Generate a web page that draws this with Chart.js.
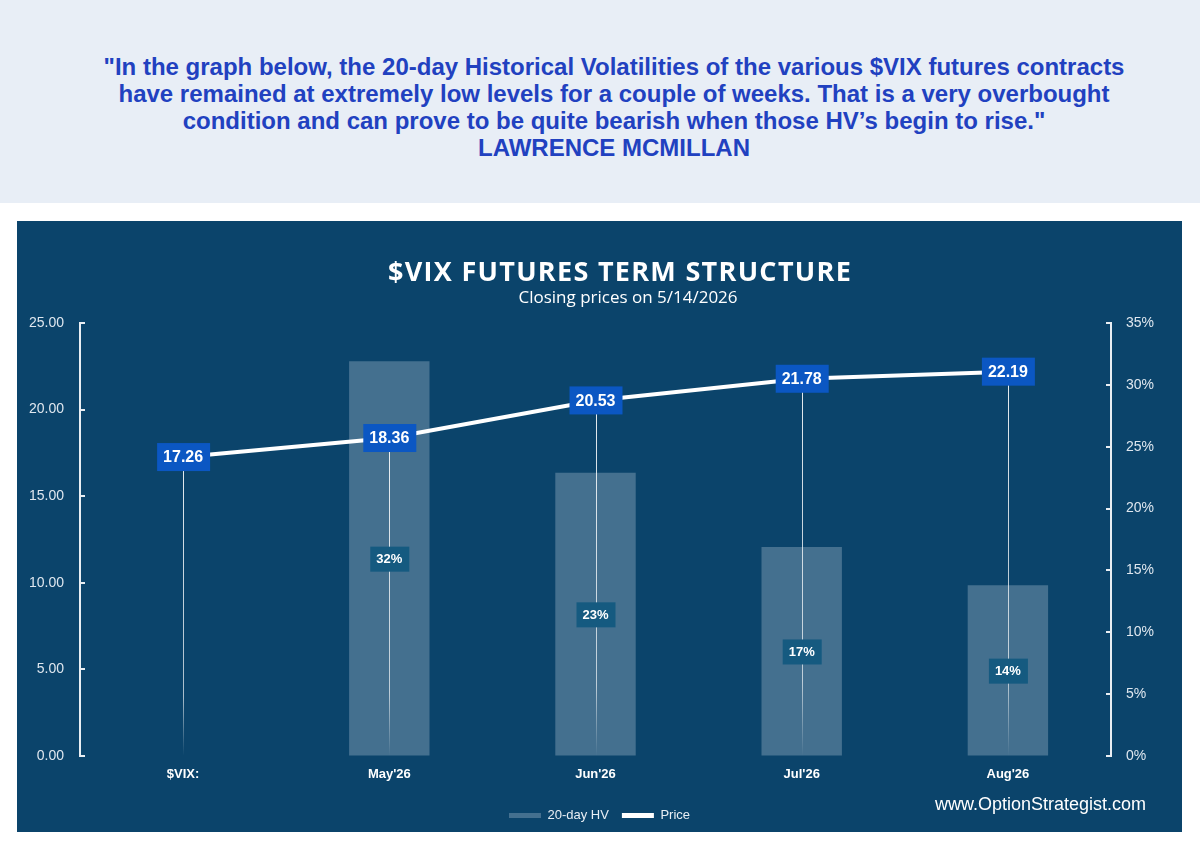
<!DOCTYPE html>
<html>
<head>
<meta charset="utf-8">
<script src="https://cdn.jsdelivr.net/npm/chart.js@4.4.1/dist/chart.umd.min.js"></script>
<style>
html,body{margin:0;padding:0;background:#ffffff;width:1200px;height:850px;overflow:hidden;}
#banner{position:absolute;left:0;top:0;width:1200px;height:203px;background:#e8eef6;}
#quote{position:absolute;left:14px;top:53px;width:1200px;text-align:center;font:bold 24px 'Liberation Sans',Arial,sans-serif;line-height:27px;color:#2141c0;}
#panel{position:absolute;left:17px;top:221px;width:1165px;height:611px;background:#0b446b;}
#site{position:absolute;left:918px;top:573px;font:18px 'Liberation Sans',Arial,sans-serif;color:#ffffff;white-space:nowrap;}
canvas{position:absolute;left:0;top:0;}
</style>
</head>
<body>
<div id="banner"><div id="quote">"In the graph below, the 20-day Historical Volatilities of the various $VIX futures contracts<br>have remained at extremely low levels for a couple of weeks. That is a very overbought<br>condition and can prove to be quite bearish when those HV’s begin to rise."<br>LAWRENCE MCMILLAN</div></div>
<div id="panel">
<canvas id="c" width="1165" height="611"></canvas>
<div id="site">www.OptionStrategist.com</div>
</div>
<script>
const categories = ["$VIX:", "May'26", "Jun'26", "Jul'26", "Aug'26"];
const priceValues = [17.26, 18.36, 20.53, 21.78, 22.19];
const hvValues = [null, 31.9, 22.9, 16.9, 13.8];
const hvLabels = ["", "32%", "23%", "17%", "14%"];
const priceTickStep = 5, priceMax = 25;
const hvTickStep = 5, hvMax = 35;
const titleText = '$VIX FUTURES TERM STRUCTURE';
const subtitleText = 'Closing prices on 5/14/2026';

const titles = {
  id: 'titles',
  afterDraw(chart) {
    const ctx = chart.ctx;
    ctx.save();
    ctx.fillStyle = '#ffffff';
    ctx.textAlign = 'center'; ctx.textBaseline = 'middle';
    ctx.font = "bold 27px 'Open Sans', sans-serif";
    if ('letterSpacing' in ctx) ctx.letterSpacing = '1.3px';
    ctx.fillText(titleText, 603, 52);
    if ('letterSpacing' in ctx) ctx.letterSpacing = '0px';
    ctx.font = "17px 'Open Sans', sans-serif";
    ctx.fillText(subtitleText, 611, 77);
    ctx.restore();
  }
};

const annot = {
  id: 'annot',
  afterDatasetsDraw(chart) {
    const ctx = chart.ctx;
    const x = chart.scales.x, y = chart.scales.y, y1 = chart.scales.y1;
    const bottom = y.getPixelForValue(0);
    ctx.save();
    ctx.strokeStyle = '#e9eef3'; ctx.lineWidth = 2;
    y.ticks.forEach((t, i) => {
      const py = Math.round(y.getPixelForTick(i));
      ctx.beginPath(); ctx.moveTo(y.right, py); ctx.lineTo(y.right + 5, py); ctx.stroke();
    });
    y1.ticks.forEach((t, i) => {
      const py = Math.round(y1.getPixelForTick(i));
      ctx.beginPath(); ctx.moveTo(y1.left, py); ctx.lineTo(y1.left - 5, py); ctx.stroke();
    });
    priceValues.forEach((v, i) => {
      const px = Math.round(x.getPixelForValue(i)) + 0.5;
      const py = y.getPixelForValue(v);
      const g = ctx.createLinearGradient(0, py, 0, bottom);
      g.addColorStop(0, 'rgba(255,255,255,0.9)');
      g.addColorStop(0.8, 'rgba(255,255,255,0.65)');
      g.addColorStop(1, 'rgba(255,255,255,0)');
      ctx.strokeStyle = g; ctx.lineWidth = 1;
      ctx.beginPath(); ctx.moveTo(px, py); ctx.lineTo(px, bottom); ctx.stroke();
    });
    ctx.textAlign = 'center'; ctx.textBaseline = 'middle';
    ctx.font = "bold 13px 'Liberation Sans', Arial, sans-serif";
    hvValues.forEach((v, i) => {
      if (v == null) return;
      const px = x.getPixelForValue(i);
      const py = (y1.getPixelForValue(v) + y1.getPixelForValue(0)) / 2;
      ctx.fillStyle = '#155a80';
      ctx.fillRect(px - 19, py - 12, 39, 25);
      ctx.fillStyle = '#ffffff';
      ctx.fillText(hvLabels[i], px, py + 1);
    });
    ctx.font = "bold 16px 'Liberation Sans', Arial, sans-serif";
    priceValues.forEach((v, i) => {
      const px = x.getPixelForValue(i);
      const py = y.getPixelForValue(v);
      ctx.fillStyle = '#0b57c3';
      ctx.fillRect(px - 26, py - 14, 53, 28);
      ctx.fillStyle = '#ffffff';
      ctx.fillText(v.toFixed(2), px, py + 1);
    });
    ctx.restore();
  }
};

new Chart(document.getElementById('c'), {
  data: {
    labels: categories,
    datasets: [
      {
        type: 'line', label: 'Price', data: priceValues, yAxisID: 'y',
        borderColor: '#ffffff', backgroundColor: '#ffffff', borderWidth: 4,
        pointRadius: 0, tension: 0, order: 0
      },
      {
        type: 'bar', label: '20-day HV', data: hvValues, yAxisID: 'y1',
        backgroundColor: '#44708f', borderWidth: 0,
        categoryPercentage: 1, barPercentage: 0.39, order: 1
      }
    ]
  },
  options: {
    responsive: false, animation: false,
    layout: { padding: { top: 102, bottom: 0, left: 0, right: 0 } },
    plugins: {
      title: { display: false },
      legend: {
        position: 'bottom', reverse: true,
        labels: { color: '#e8eef4', font: { family: "'Liberation Sans Narrow', 'Liberation Sans', Arial, sans-serif", size: 13 },
          boxWidth: 32, boxHeight: 5, padding: 13,
          generateLabels(chart) {
            return chart.data.datasets.map((d, i) => ({
              text: d.label, fillStyle: d.type === 'bar' ? '#44708f' : '#ffffff',
              strokeStyle: 'rgba(0,0,0,0)', lineWidth: 0, fontColor: '#e8eef4', datasetIndex: i, hidden: false
            }));
          }
        }
      },
      tooltip: { enabled: false }
    },
    scales: {
      x: {
        grid: { display: false }, border: { display: false },
        ticks: { color: '#ffffff', font: { family: "'Liberation Sans', Arial, sans-serif", size: 13, weight: 'bold' }, padding: 3 },
        afterFit(s) { s.height = 40; }
      },
      y: {
        position: 'left', min: 0, max: priceMax,
        ticks: { stepSize: priceTickStep, color: '#dfe7ef', padding: 16,
          font: { family: "'Liberation Sans', Arial, sans-serif", size: 14 },
          callback: v => v.toFixed(2) },
        grid: { drawOnChartArea: false, drawTicks: false },
        border: { color: '#e9eef3', width: 2 },
        afterFit(s) { s.width = 63; }
      },
      y1: {
        position: 'right', min: 0, max: hvMax,
        ticks: { stepSize: hvTickStep, color: '#dfe7ef', padding: 15,
          font: { family: "'Liberation Sans', Arial, sans-serif", size: 14 },
          callback: v => v + '%' },
        grid: { drawOnChartArea: false, drawTicks: false },
        border: { color: '#e9eef3', width: 2 },
        afterFit(s) { s.width = 71; }
      }
    }
  },
  plugins: [annot, titles]
});
</script>
</body>
</html>
